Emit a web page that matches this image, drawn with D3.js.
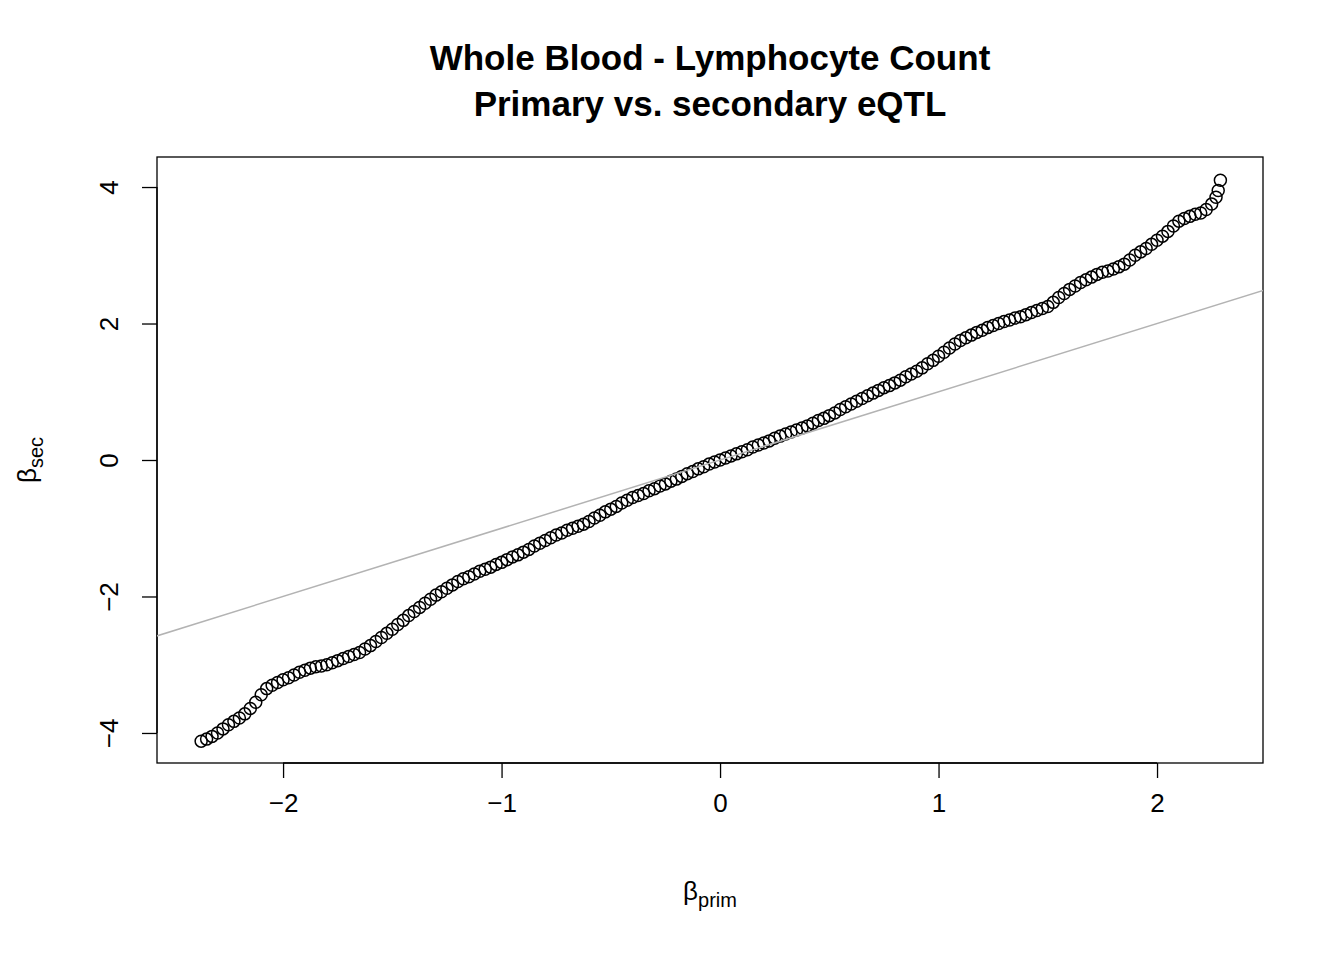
<!DOCTYPE html>
<html>
<head>
<meta charset="utf-8">
<script src="https://cdn.jsdelivr.net/npm/d3@7"></script>
<style>body{margin:0;background:#fff}</style>
</head>
<body>
<div id="chart"></div>
<script>
const width = 1344, height = 960;
const titleLines = ["Whole Blood - Lymphocyte Count", "Primary vs. secondary eQTL"];
const xTicks = [-2, -1, 0, 1, 2];
const yTicks = [-4, -2, 0, 2, 4];

// primary effect sizes (sorted) and secondary effect sizes
const betaPrim = [-2.375,-2.35,-2.325,-2.3,-2.275,-2.25,-2.225,-2.2,-2.175,-2.15,-2.125,-2.1,-2.075,-2.05,-2.025,-2.0,-1.975,-1.95,-1.925,-1.9,-1.875,-1.85,-1.825,-1.8,-1.775,-1.75,-1.725,-1.7,-1.675,-1.65,-1.625,-1.6,-1.575,-1.55,-1.525,-1.5,-1.475,-1.45,-1.425,-1.4,-1.375,-1.35,-1.325,-1.3,-1.275,-1.25,-1.225,-1.2,-1.175,-1.15,-1.125,-1.1,-1.075,-1.05,-1.025,-1.0,-0.975,-0.95,-0.925,-0.9,-0.875,-0.85,-0.825,-0.8,-0.775,-0.75,-0.725,-0.7,-0.675,-0.65,-0.625,-0.6,-0.575,-0.55,-0.525,-0.5,-0.475,-0.45,-0.425,-0.4,-0.375,-0.35,-0.325,-0.3,-0.275,-0.25,-0.225,-0.2,-0.175,-0.15,-0.125,-0.1,-0.075,-0.05,-0.025,0,0.025,0.05,0.075,0.1,0.125,0.15,0.175,0.2,0.225,0.25,0.275,0.3,0.325,0.35,0.375,0.4,0.425,0.45,0.475,0.5,0.525,0.55,0.575,0.6,0.625,0.65,0.675,0.7,0.725,0.75,0.775,0.8,0.825,0.85,0.875,0.9,0.925,0.95,0.975,1.0,1.025,1.05,1.075,1.1,1.125,1.15,1.175,1.2,1.225,1.25,1.275,1.3,1.325,1.35,1.375,1.4,1.425,1.45,1.475,1.5,1.525,1.55,1.575,1.6,1.625,1.65,1.675,1.7,1.725,1.75,1.775,1.8,1.825,1.85,1.875,1.9,1.925,1.95,1.975,2.0,2.025,2.05,2.075,2.1,2.125,2.15,2.175,2.2,2.225,2.25,2.27,2.28,2.29];
const betaSec = [-4.12,-4.09,-4.05,-4.00,-3.94,-3.88,-3.83,-3.78,-3.72,-3.64,-3.55,-3.44,-3.35,-3.30,-3.26,-3.22,-3.19,-3.15,-3.11,-3.08,-3.05,-3.03,-3.02,-3.00,-2.97,-2.94,-2.91,-2.88,-2.85,-2.82,-2.77,-2.72,-2.66,-2.60,-2.54,-2.48,-2.41,-2.35,-2.28,-2.22,-2.16,-2.10,-2.04,-1.98,-1.93,-1.88,-1.83,-1.78,-1.74,-1.71,-1.67,-1.63,-1.60,-1.57,-1.53,-1.50,-1.46,-1.42,-1.39,-1.35,-1.31,-1.26,-1.22,-1.18,-1.14,-1.10,-1.07,-1.03,-1.00,-0.97,-0.94,-0.90,-0.85,-0.81,-0.76,-0.72,-0.68,-0.63,-0.59,-0.55,-0.52,-0.49,-0.45,-0.42,-0.38,-0.35,-0.31,-0.28,-0.24,-0.20,-0.17,-0.13,-0.10,-0.06,-0.03,0.00,0.03,0.06,0.09,0.12,0.15,0.19,0.22,0.25,0.28,0.32,0.35,0.38,0.41,0.44,0.47,0.50,0.54,0.58,0.61,0.65,0.69,0.74,0.78,0.82,0.86,0.90,0.94,0.98,1.02,1.06,1.09,1.13,1.17,1.22,1.26,1.30,1.35,1.41,1.46,1.52,1.58,1.64,1.70,1.75,1.79,1.83,1.87,1.90,1.94,1.97,2.00,2.03,2.05,2.08,2.10,2.13,2.16,2.19,2.22,2.25,2.31,2.38,2.44,2.50,2.55,2.60,2.64,2.68,2.72,2.75,2.77,2.80,2.83,2.87,2.93,3.00,3.05,3.10,3.16,3.22,3.28,3.35,3.43,3.50,3.54,3.57,3.60,3.62,3.67,3.75,3.85,3.95,4.10];

const box = {left: 157, right: 1263, top: 157, bottom: 763};
const x = d3.scaleLinear().domain([-2.577, 2.485]).range([box.left, box.right]);
const y = d3.scaleLinear().domain([-4.44, 4.44]).range([box.bottom, box.top]);
const font = "Liberation Sans, Arial, sans-serif";

const svg = d3.select("#chart").append("svg")
    .attr("width", width)
    .attr("height", height)
    .style("font-family", font);

svg.selectAll("text.title")
    .data(titleLines)
    .enter().append("text")
    .attr("x", 710)
    .attr("y", (d, i) => 70 + i * 46)
    .attr("text-anchor", "middle")
    .attr("font-size", 35)
    .attr("font-weight", "bold")
    .text(d => d);

// x axis
const xAxis = svg.append("g").attr("transform", `translate(0,${box.bottom})`)
    .call(d3.axisBottom(x).tickValues(xTicks).tickSize(15).tickPadding(16).tickFormat(d3.format("d")));
xAxis.select(".domain").attr("d", `M${x(-2)},0H${x(2)}`).attr("stroke-width", 1.3);
xAxis.selectAll(".tick line").attr("stroke-width", 1.3);
xAxis.selectAll("text").attr("font-size", 26).attr("font-family", font);

// y axis
const yAxis = svg.append("g").attr("transform", `translate(${box.left},0)`)
    .call(d3.axisLeft(y).tickValues(yTicks).tickSize(15).tickFormat(d3.format("d")));
yAxis.select(".domain").attr("d", `M0,${y(-4)}V${y(4)}`).attr("stroke-width", 1.3);
yAxis.selectAll(".tick line").attr("stroke-width", 1.3);
yAxis.selectAll("text")
    .attr("font-size", 26).attr("font-family", font)
    .attr("x", null).attr("dy", null)
    .attr("text-anchor", "middle")
    .attr("transform", "translate(-48,0) rotate(-90)")
    .attr("y", 9);

// plot frame
svg.append("rect")
    .attr("x", box.left).attr("y", box.top)
    .attr("width", box.right - box.left).attr("height", box.bottom - box.top)
    .attr("fill", "none").attr("stroke", "#000").attr("stroke-width", 1.3);

const clip = svg.append("clipPath").attr("id", "clip").append("rect")
    .attr("x", box.left).attr("y", box.top)
    .attr("width", box.right - box.left).attr("height", box.bottom - box.top);

const plot = svg.append("g").attr("clip-path", "url(#clip)");

plot.selectAll("circle")
    .data(betaPrim.map((v, i) => [v, betaSec[i]]))
    .enter().append("circle")
    .attr("cx", d => x(d[0]))
    .attr("cy", d => y(d[1]))
    .attr("r", 6)
    .attr("fill", "none")
    .attr("stroke", "#000")
    .attr("stroke-width", 1.5);

// identity line
plot.append("line")
    .attr("x1", x(-2.6)).attr("y1", y(-2.6))
    .attr("x2", x(2.5)).attr("y2", y(2.5))
    .attr("stroke", "#b3b3b3").attr("stroke-width", 1.5);

// axis labels
const xl = svg.append("text").attr("x", 710).attr("y", 900)
    .attr("text-anchor", "middle").attr("font-size", 26);
xl.append("tspan").text("β");
xl.append("tspan").attr("dy", 7).attr("font-size", 20).text("prim");

const yl = svg.append("text")
    .attr("transform", "translate(36,460) rotate(-90)")
    .attr("text-anchor", "middle").attr("font-size", 26);
yl.append("tspan").text("β");
yl.append("tspan").attr("dy", 7).attr("font-size", 20).text("sec");
</script>
</body>
</html>
